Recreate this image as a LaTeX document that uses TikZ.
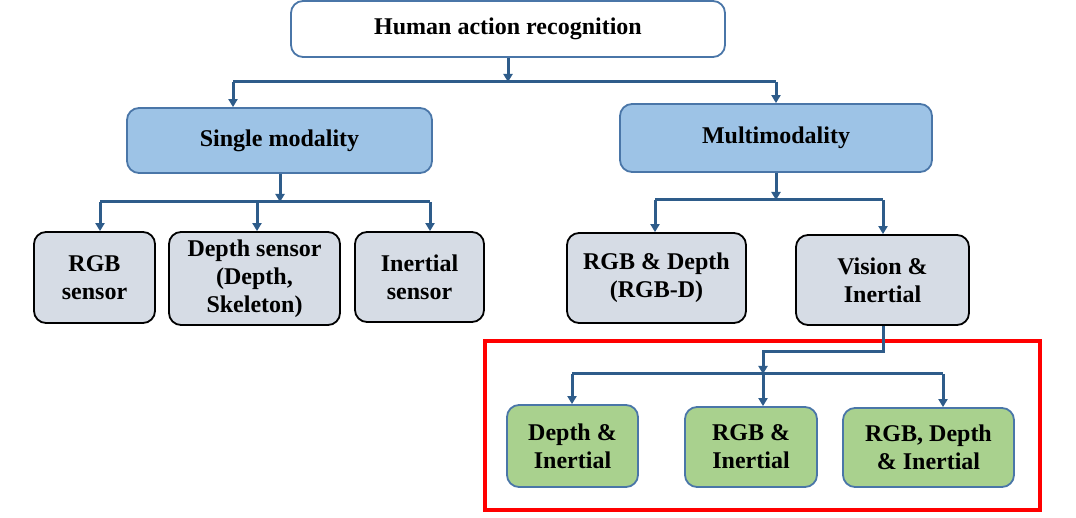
\documentclass[tikz,border=0pt]{standalone}
\usepackage{fontspec}
\setmainfont{Liberation Serif}
\usetikzlibrary{arrows.meta}
\definecolor{conn}{HTML}{2E5C8A}
\definecolor{bluefill}{HTML}{9DC3E6}
\definecolor{blueline}{HTML}{4A76A8}
\definecolor{grayfill}{HTML}{D6DCE5}
\definecolor{greenfill}{HTML}{A9D18E}
\definecolor{framered}{HTML}{FF0000}
\begin{document}
\begin{tikzpicture}[x=1pt,y=-1pt,
  box/.style={rounded corners=12pt, line width=1.8pt, align=center, inner sep=0pt,
    font=\fontsize{24}{28}\selectfont\bfseries},
  topbox/.style={box, draw=blueline, fill=white},
  bluebox/.style={box, draw=blueline, fill=bluefill},
  graybox/.style={box, draw=black, fill=grayfill},
  greenbox/.style={box, draw=blueline, fill=greenfill},
  wire/.style={draw=conn, line width=3pt},
  arr/.style={wire, -{Triangle[length=8pt,width=9pt]}}]
\useasboundingbox (0,0) rectangle (1076,518);

\node[topbox, minimum width=434pt, minimum height=56pt] (top) at (508,29) {Human action recognition};
\node[bluebox, minimum width=305pt, minimum height=65pt] (single) at (279.5,140.5) {Single modality};
\node[bluebox, minimum width=312pt, minimum height=68pt] (multi) at (776,138) {Multimodality};

\node[graybox, minimum width=121pt, minimum height=91pt] (rgb) at (94.5,277.5) {RGB\\sensor};
\node[graybox, minimum width=171pt, minimum height=93pt] (depth) at (254.5,278.5) {Depth sensor\\(Depth,\\Skeleton)};
\node[graybox, minimum width=129pt, minimum height=90pt] (inertial) at (419.5,277) {Inertial\\sensor};
\node[graybox, minimum width=179pt, minimum height=90pt] (rgbd) at (656.5,278) {RGB \& Depth\\(RGB-D)};
\node[graybox, minimum width=173pt, minimum height=90pt] (vis) at (882.5,280) {Vision \&\\Inertial};

\node[greenbox, minimum width=131pt, minimum height=82pt] (di) at (572.5,446) {Depth \&\\Inertial};
\node[greenbox, minimum width=132pt, minimum height=80pt] (ri) at (751,447) {RGB \&\\Inertial};
\node[greenbox, minimum width=171pt, minimum height=79pt] (rdi) at (928.5,447.5) {RGB, Depth\\\& Inertial};

% frame
\draw[draw=framered, line width=4pt] (485,341) rectangle (1040,510);

% bus coordinates
\coordinate (b0) at (508,82);
\coordinate (b0l) at (233,82);
\coordinate (b0r) at (776,82);
\coordinate (b1) at (280,202);
\coordinate (b1l) at (100,202);
\coordinate (b1m) at (257,202);
\coordinate (b1r) at (430,202);
\coordinate (b2) at (776,200);
\coordinate (b2l) at (655,200);
\coordinate (b2r) at (883,200);
\coordinate (k1) at (883,352);
\coordinate (k2) at (763,352);
\coordinate (b3) at (763,374);
\coordinate (b3l) at (572,374);
\coordinate (b3r) at (943,374);

% top level
\draw[arr] (top.south -| b0) -- (b0);
\draw[wire] (b0l) -- (b0r);
\draw[arr] (b0l) -- (b0l |- single.north);
\draw[arr] (b0r) -- (b0r |- multi.north);

% single modality
\draw[arr] (single.south -| b1) -- (b1);
\draw[wire] (b1l) -- (b1r);
\draw[arr] (b1l) -- (b1l |- rgb.north);
\draw[arr] (b1m) -- (b1m |- depth.north);
\draw[arr] (b1r) -- (b1r |- inertial.north);

% multimodality
\draw[arr] (multi.south -| b2) -- (b2);
\draw[wire] (b2l) -- (b2r);
\draw[arr] (b2l) -- (b2l |- rgbd.north);
\draw[arr] (b2r) -- (b2r |- vis.north);

% vision & inertial
\draw[arr] (vis.south -| k1) -- (k1) -- (k2) -- (b3);
\draw[wire] (b3l) -- (b3r);
\draw[arr] (b3l) -- (b3l |- di.north);
\draw[arr] (b3) -- (b3 |- ri.north);
\draw[arr] (b3r) -- (b3r |- rdi.north);
\end{tikzpicture}
\end{document}
